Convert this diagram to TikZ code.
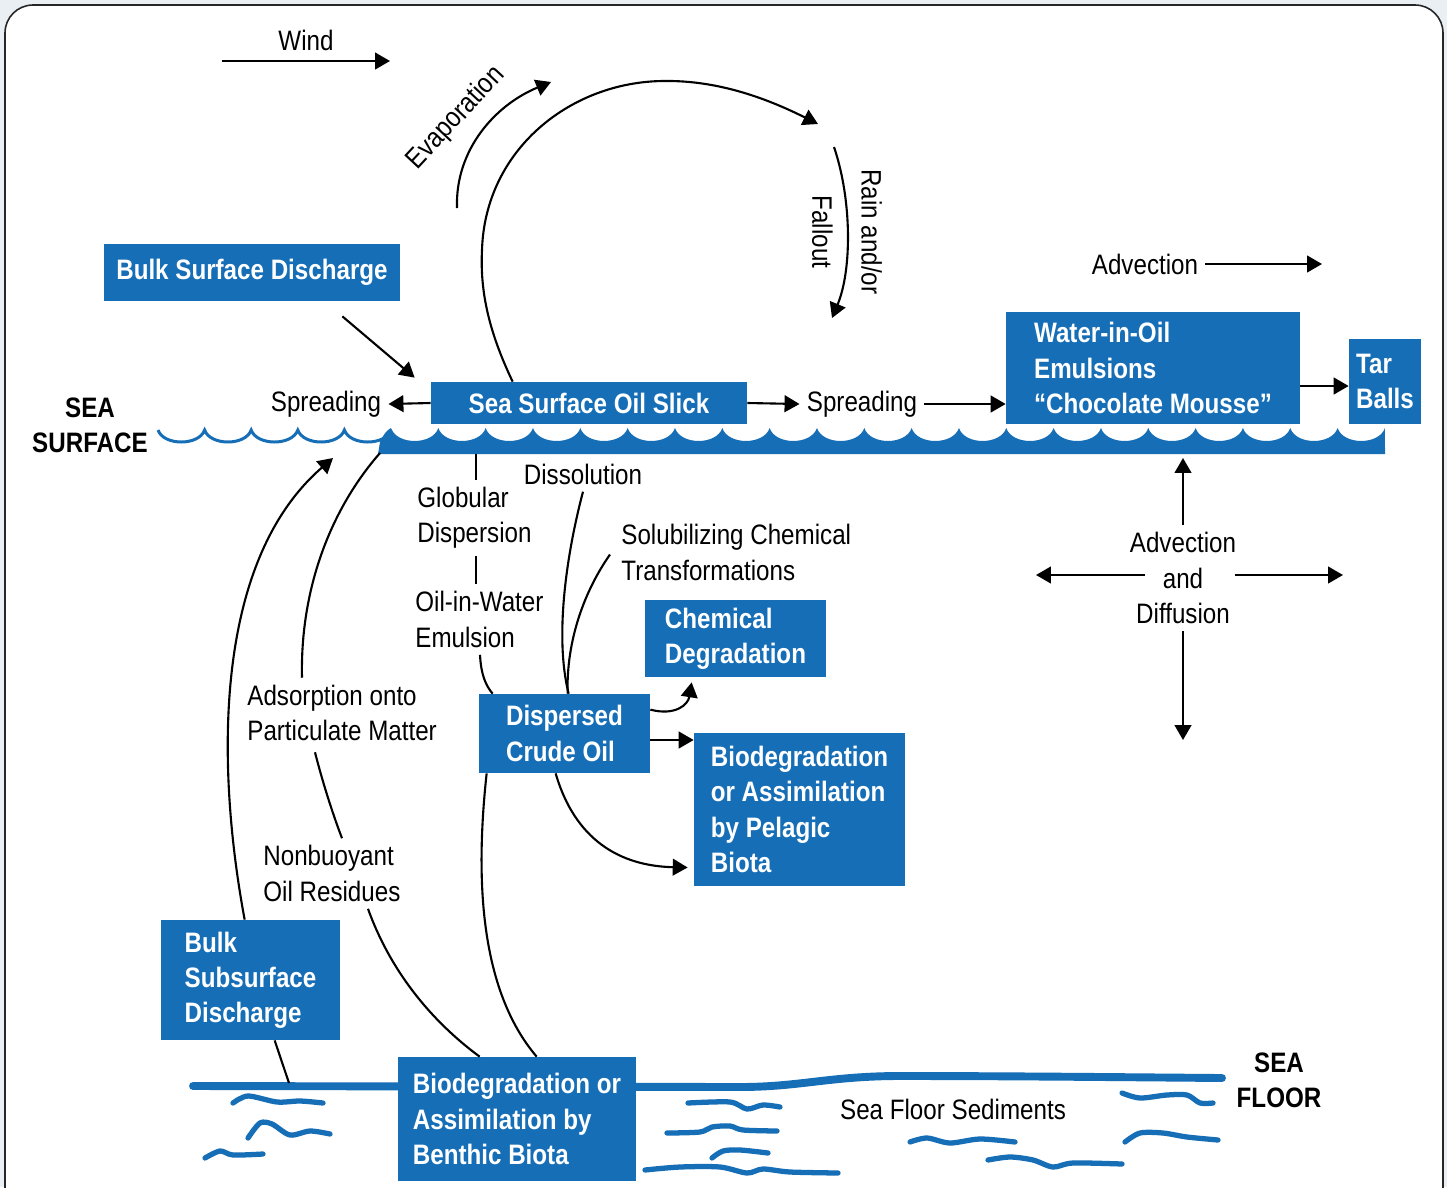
\documentclass[tikz,border=0pt]{standalone}
\usepackage{fontspec}
\setmainfont{Liberation Sans}[FakeStretch=0.86]
\usetikzlibrary{arrows.meta,calc}
\definecolor{oilblue}{RGB}{22,110,183}
\definecolor{pagebg}{RGB}{234,239,244}
\newcommand\pxl{0.02cm}
\newcommand\basefont{\fontsize{16}{20}\selectfont}

\begin{document}
\begin{tikzpicture}[x=0.02cm, y=-0.02cm,
    font=\basefont,
    box/.style 2 args={fill=oilblue, text=white, font=\basefont\bfseries, align=left,
        inner sep=0pt, minimum width=#1*\pxl, minimum height=#2*\pxl},
    lbl/.style={inner sep=4pt, align=left},
    arr/.style={line width=1.2pt, -{Triangle[length=8.5pt,width=9.5pt]}},
    link/.style={line width=1.2pt},
    squig/.style={oilblue, line width=3pt, line cap=round, line join=round}]

    \useasboundingbox (0,0) rectangle (1447,1187);
    \fill[pagebg] (0,0) rectangle (1447,1187);
    \draw[fill=white, draw=black!85, line width=0.9pt, rounded corners=0.56cm] (5,5) rectangle (1443,1215);

    % sea surface
    \draw[oilblue, line width=1.7pt] (158,430)
        \foreach \k in {0,...,4} { .. controls ({158+46.6*\k+5.6},446) and ({158+46.6*\k+41},446) .. ({158+46.6*(\k+1)},430) };
    \fill[oilblue] (378,454) -- (380,442) .. controls (383,435) and (387,430) .. (391,428)
        \foreach \k in {0,...,20} { .. controls ({391+47.33*\k+5.7},445.3) and ({391+47.33*\k+41.6},445.3) .. ({391+47.33*(\k+1)},428) }
        -- (1385,454) -- cycle;

    % sea floor
    \draw[oilblue, line width=4.5pt, line cap=round] (193,1086) -- (740,1087)
        .. controls (800,1087) and (830,1076) .. (900,1076) .. controls (1000,1076) and (1100,1077) .. (1222,1078);
    \draw[squig] plot[smooth] coordinates {(233,1103) (248,1096) (277,1102) (300,1101) (323,1103)};
    \draw[squig] plot[smooth] coordinates {(248,1138) (260,1123) (272,1124) (290,1135) (310,1131) (330,1134)};
    \draw[squig] plot[smooth] coordinates {(205,1158) (220,1151) (233,1155) (263,1154)};
    \draw[squig] plot[smooth] coordinates {(688,1103) (730,1102) (747,1109) (763,1105) (780,1107)};
    \draw[squig] plot[smooth] coordinates {(667,1133) (700,1132) (712,1127) (730,1126) (743,1130) (777,1131)};
    \draw[squig] plot[smooth] coordinates {(712,1158) (723,1151) (740,1150) (768,1153)};
    \draw[squig] plot[smooth] coordinates {(645,1170) (680,1167) (720,1167) (747,1173) (763,1169) (790,1172) (838,1173)};
    \draw[squig] plot[smooth] coordinates {(910,1142) (927,1138) (950,1143) (980,1139) (1015,1142)};
    \draw[squig] plot[smooth] coordinates {(988,1160) (1010,1157) (1033,1160) (1053,1167) (1073,1163) (1122,1164)};
    \draw[squig] plot[smooth] coordinates {(1122,1093) (1140,1098) (1167,1095) (1187,1095) (1200,1103) (1213,1103)};
    \draw[squig] plot[smooth] coordinates {(1125,1142) (1140,1133) (1163,1133) (1187,1137) (1218,1140)};

    % boxes
    \node[box={296}{57}] (bulksurf) at (252,272.5) {Bulk Surface Discharge};
    \node[box={316}{42}] (slick) at (589,403) {Sea Surface Oil Slick};
    \node[box={294}{112}] (mousse) at (1153,368) {Water-in-Oil\\Emulsions\\“Chocolate Mousse”};
    \node[box={72}{85}] (tarballs) at (1385,381.5) {Tar\\Balls};
    \node[box={181}{77}] (chemdeg) at (735.5,638.5) {Chemical\\Degradation};
    \node[box={171}{79}] (dispersed) at (564.5,733.5) {Dispersed\\Crude Oil};
    \node[box={211}{153}] (pelagic) at (799.5,809.5) {Biodegradation\\or Assimilation\\by Pelagic\\Biota};
    \node[box={179}{120}] (bulksub) at (250.5,980) {Bulk\\Subsurface\\Discharge};
    \node[box={238}{124}] (benthic) at (517,1119) {Biodegradation or\\Assimilation by\\Benthic Biota};

    % labels
    \node[lbl] (wind) at (306,40) {Wind};
    \node[lbl, rotate=47] (evap) at (456,118) {Evaporation};
    \node[lbl, rotate=-90, align=center] (rain) at (847,232) {Rain and/or\\[8pt]Fallout};
    \node[lbl] (spreadL) at (326,404) {Spreading};
    \node[lbl] (spreadR) at (862,404) {Spreading};
    \node[lbl] (advtop) at (1145,264) {Advection};
    \node[lbl, align=center, font=\basefont\bfseries] (seasurf) at (90,425) {SEA\\SURFACE};
    \node[lbl] (dissol) at (583,474) {Dissolution};
    \node[lbl, anchor=west] (globular) at (410,518) {Globular\\Dispersion};
    \node[lbl, anchor=west] (oilwater) at (408,619.5) {Oil-in-Water\\Emulsion};
    \node[lbl, anchor=west] (solub) at (614,552.5) {Solubilizing Chemical\\Transformations};
    \node[lbl, align=center] (advdiff) at (1183,578) {Advection\\and\\Diffusion};
    \node[lbl, anchor=west] (adsorp) at (240,713) {Adsorption onto\\Particulate Matter};
    \node[lbl, anchor=west] (nonbuoy) at (256,873.5) {Nonbuoyant\\Oil Residues};
    \node[lbl] (sediments) at (953,1109) {Sea Floor Sediments};
    \node[lbl, align=center, font=\basefont\bfseries] (seafloor) at (1279,1080) {SEA\\FLOOR};

    % free ends
    \coordinate (windA) at (222,61);
    \coordinate (windB) at (390,61);
    \coordinate (evapA) at (457,208);
    \coordinate (evapB) at (551,82);
    \coordinate (cloud) at (818,124);
    \coordinate (rainA) at (834,147);
    \coordinate (rainB) at (832,318);
    \coordinate (advR) at (1322,264);
    \coordinate (adN) at (1183,458);
    \coordinate (adS) at (1183,740);
    \coordinate (adW) at (1036,575);
    \coordinate (adE) at (1343,575);
    \coordinate (gdTop) at (476,454);
    \coordinate (surfL) at (380,453);
    \coordinate (surfUp) at (333,458);
    \coordinate (floorL) at (289,1083);

    % atmosphere
    \draw[arr] (windA) -- (windB);
    \draw[arr] (evapA) .. controls (455,150) and (495,105) .. (evapB);
    \draw[arr] ($(slick.north west)+(82,0)$) .. controls (488,330) and (480,290) .. (482,250)
        .. controls (485,150) and (570,82) .. (663,81) .. controls (720,80) and (770,100) .. (cloud);
    \draw[arr] (rainA) .. controls (852,200) and (852,270) .. (rainB);

    % surface
    \draw[arr] ($(bulksurf.south east)+(-58,15)$) -- ($(slick.north west)+(-16,-4)$);
    \draw[arr] (slick.west) -- (spreadL.east);
    \draw[arr] (slick.east) -- (spreadR.west);
    \draw[arr] (spreadR.east) -- (spreadR.east -| mousse.west);
    \draw[arr] ($(mousse.east)+(0,18)$) coordinate (mt) -- (mt -| tarballs.west);
    \draw[arr] (advtop.east) -- (advR);

    % water column
    \draw[arr] (advdiff.north) -- (adN);
    \draw[arr] (advdiff.south) -- (adS);
    \draw[arr] ($(advdiff.center)+(-38,-3)$) -- (adW);
    \draw[arr] ($(advdiff.center)+(52,-3)$) -- (adE);
    \draw[link] (gdTop) -- (gdTop |- globular.north);
    \draw[link] (gdTop |- globular.south) -- (gdTop |- oilwater.north);
    \draw[link] ($(oilwater.south west)+(72,0)$) .. controls (481,675) and (486,686) .. ($(dispersed.north west)+(14,0)$);
    \draw[link] (dissol.south) .. controls (565,560) and (555,640) .. ($(dispersed.north west)+(90,0)$);
    \draw[link] ($(solub.west)+(-4,2)$) .. controls (585,590) and (566,640) .. ($(dispersed.north west)+(89,0)$);
    \draw[arr] ($(dispersed.north east)+(0,16)$) .. controls (675,716) and (688,705) .. ($(chemdeg.south west)+(47,5)$);
    \draw[arr] ($(dispersed.east)+(0,6.5)$) coordinate (dp) -- (dp -| pelagic.west);
    \draw[arr] ($(dispersed.south west)+(77,0)$) .. controls (575,840) and (620,866) .. ($(pelagic.west)+(-6,58)$);

    % subsurface
    \draw[arr] ($(bulksub.north west)+(84,0)$) .. controls (215,760) and (215,560) .. (surfUp);
    \draw[link] (surfL) .. controls (330,510) and (300,590) .. ($(adsorp.north west)+(62,0)$);
    \draw[link] ($(adsorp.south west)+(75,4)$) .. controls (322,780) and (332,812) .. ($(nonbuoy.north west)+(86,0)$);
    \draw[link] ($(nonbuoy.south west)+(112,0)$) .. controls (390,970) and (430,1020) .. ($(benthic.north west)+(82,0)$);
    \draw[link] ($(dispersed.south west)+(8,0)$) .. controls (475,880) and (480,990) .. ($(benthic.north west)+(139,0)$);
    \draw[link] ($(bulksub.south west)+(114,0)$) -- (floorL);
\end{tikzpicture}
\end{document}
